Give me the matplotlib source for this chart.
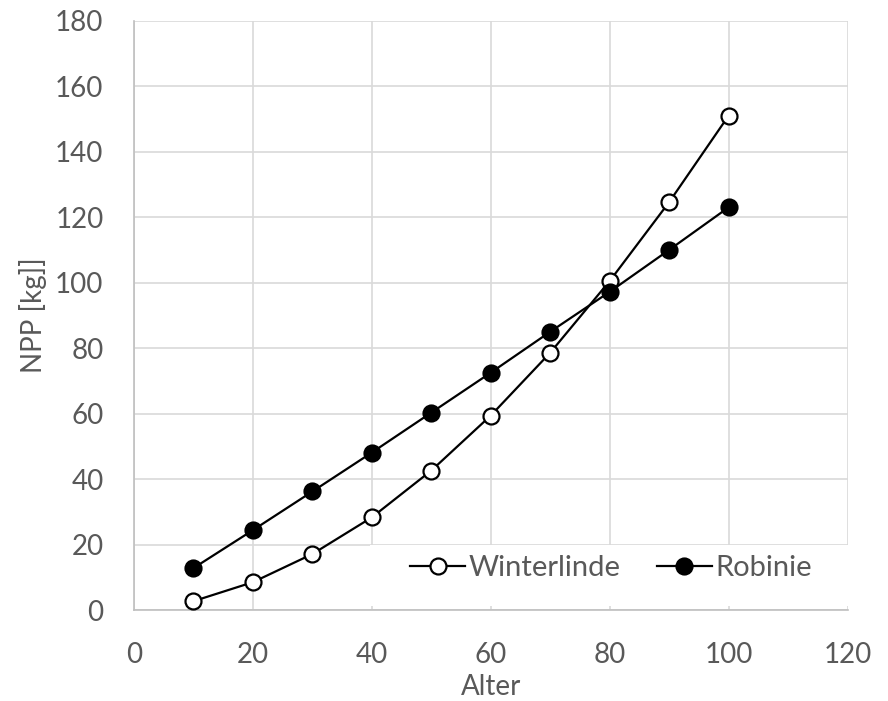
import matplotlib
matplotlib.use("Agg")
import matplotlib.pyplot as plt
from matplotlib.patches import Rectangle

alter = [10, 20, 30, 40, 50, 60, 70, 80, 90, 100]
winterlinde = [2.7, 8.5, 17.1, 28.3, 42.6, 59.4, 78.6, 100.5, 124.6, 151.0]
robinie = [12.8, 24.4, 36.2, 48.1, 60.3, 72.5, 85.0, 97.2, 110.0, 123.0]
xticks = [0, 20, 40, 60, 80, 100, 120]
yticks = [0, 20, 40, 60, 80, 100, 120, 140, 160, 180]

plt.rcParams['font.family'] = ['Lato', 'DejaVu Sans']
txt = '#595959'

fig = plt.figure(figsize=(8.88, 7.01), dpi=100)
ax = fig.add_axes([0.1509, 0.1298, 0.9545 - 0.1509, 0.9705 - 0.1298])

ax.plot(alter, winterlinde, color='black', lw=1.6, marker='o', ms=11.5,
        mfc='white', mec='black', mew=1.6, label='Winterlinde', zorder=3)
ax.plot(alter, robinie, color='black', lw=1.6, marker='o', ms=11.5,
        mfc='black', mec='black', mew=1.6, label='Robinie', zorder=3)

ax.set_xlim(0, 120)
ax.set_ylim(0, 180)
ax.set_xticks(xticks)
ax.set_yticks(yticks)
ax.grid(True, color='#d9d9d9', lw=1.2)
ax.set_axisbelow(True)
for s in ['top', 'right']:
    ax.spines[s].set_visible(False)
for s in ['left', 'bottom']:
    ax.spines[s].set_color('#bfbfbf')
    ax.spines[s].set_linewidth(1.2)
ax.tick_params(axis='y', length=0, labelsize=20, colors=txt, pad=22)
ax.tick_params(axis='x', length=0, labelsize=20, colors=txt, pad=23)
ax.set_xlabel('Alter', fontsize=20, color=txt, labelpad=4)
ax.set_ylabel('NPP [kg]]', fontsize=20, color=txt, labelpad=6)

# white legend background area
ax.add_patch(Rectangle((0.3305, 0.007), 1 - 0.3305, 0.103, transform=ax.transAxes,
                       facecolor='white', edgecolor='none', zorder=1))

leg = ax.legend(loc='center left', ncol=2, frameon=False, fontsize=21,
                bbox_to_anchor=(0.3866, 0.0712), borderaxespad=0, handlelength=1.9,
                handletextpad=0.1, columnspacing=1.25, borderpad=0)
for t in leg.get_texts():
    t.set_color(txt)

fig.savefig('out.png', dpi=100)
